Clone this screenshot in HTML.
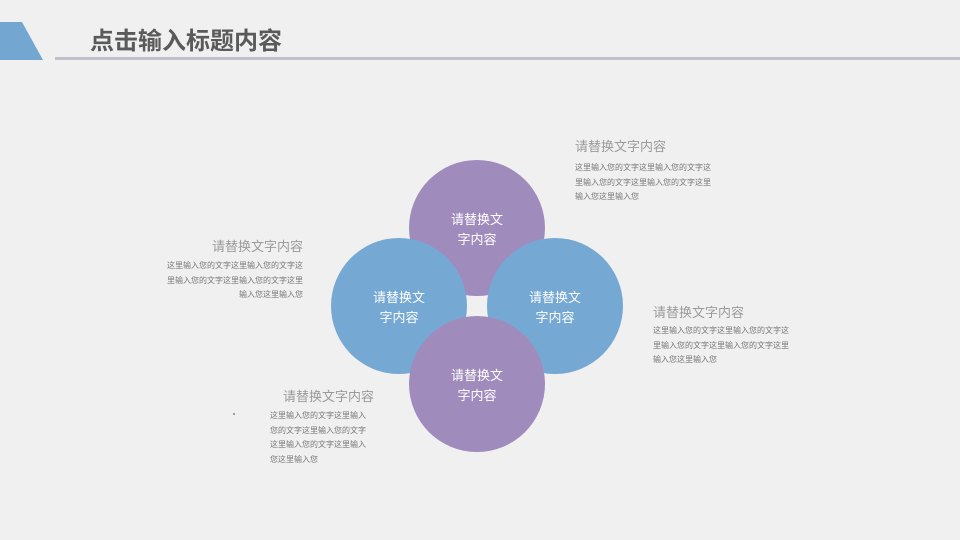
<!DOCTYPE html>
<html><head><meta charset="utf-8"><style>
html,body{margin:0;padding:0}
body{width:960px;height:540px;position:relative;overflow:hidden;background:#f0f0f0;font-family:"Liberation Sans","Noto Sans CJK SC",sans-serif}
.t{position:absolute;white-space:nowrap}
.h{font-size:13px;color:#9a9a9a;line-height:15px}
.b{font-size:8px;color:#777;line-height:14.5px}
.c{position:absolute;width:136px;height:136px;border-radius:50%;display:flex;align-items:center;justify-content:center;text-align:center;color:#fff;font-size:13px;line-height:20px;padding-top:4px;box-sizing:border-box}
.p{background:#a08cbc}.bl{background:#75a8d3}
</style></head><body>
<svg style="position:absolute;left:0;top:0" width="960" height="70">
<polygon points="0,22 22,22 43,60 0,60" fill="#74a6d2"/>
<rect x="55" y="57" width="905" height="3" fill="#c0c0ca"/>
</svg>
<div class="t" style="left:90px;top:27px;font-size:24px;font-weight:bold;color:#5a5a5a;line-height:30px">点击输入标题内容</div>

<div class="c p" style="left:409px;top:160px">请替换文<br>字内容</div>
<div class="c bl" style="left:331px;top:238px">请替换文<br>字内容</div>
<div class="c bl" style="left:487px;top:238px">请替换文<br>字内容</div>
<div class="c p" style="left:409px;top:316px">请替换文<br>字内容</div>

<div class="t h" style="left:575px;top:139px">请替换文字内容</div>
<div class="t b" style="left:575px;top:161px">这里输入您的文字这里输入您的文字这<br>里输入您的文字这里输入您的文字这里<br>输入您这里输入您</div>

<div class="t h" style="right:657px;top:239px;text-align:right">请替换文字内容</div>
<div class="t b" style="right:657px;top:259px;text-align:right">这里输入您的文字这里输入您的文字这<br>里输入您的文字这里输入您的文字这里<br>输入您这里输入您</div>

<div class="t h" style="left:653px;top:305px">请替换文字内容</div>
<div class="t b" style="left:653px;top:324px">这里输入您的文字这里输入您的文字这<br>里输入您的文字这里输入您的文字这里<br>输入您这里输入您</div>

<div class="t h" style="left:283px;top:389px">请替换文字内容</div>
<div class="t" style="left:233px;top:413px;width:2px;height:2px;background:#999"></div>
<div class="t b" style="left:270px;top:409px">这里输入您的文字这里输入<br>您的文字这里输入您的文字<br>这里输入您的文字这里输入<br>您这里输入您</div>
</body></html>
